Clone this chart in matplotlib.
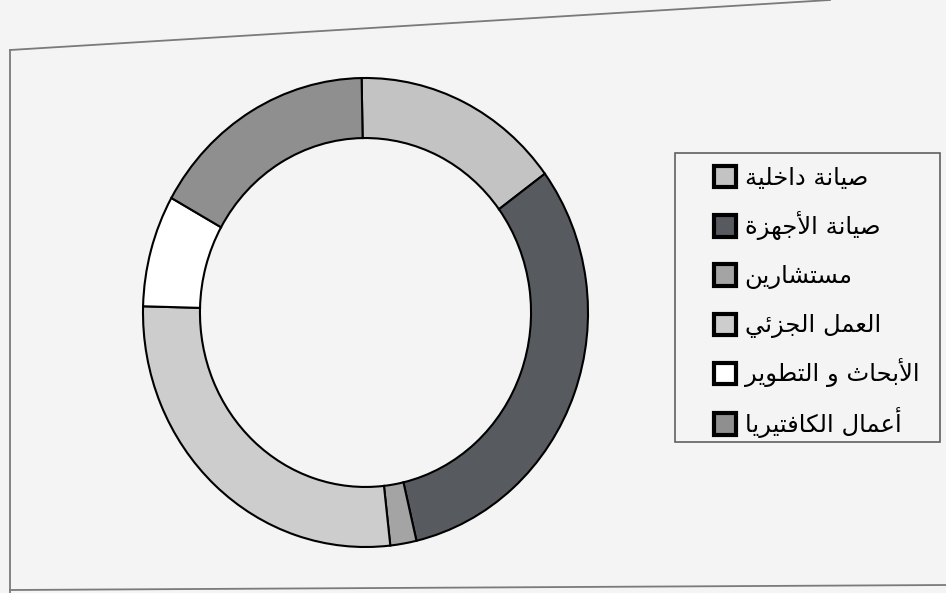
import matplotlib
matplotlib.use('Agg')
import matplotlib.pyplot as plt
from matplotlib.patches import Rectangle
from matplotlib.lines import Line2D
from matplotlib.legend_handler import HandlerPatch

plt.rcParams['font.family'] = ['DejaVu Sans']

labels = ['صيانة داخلية', 'صيانة الأجهزة', 'مستشارين', 'العمل الجزئي',
          'الأبحاث و التطوير', 'أعمال الكافتيريا']
values = [15.2, 31.4, 1.9, 27.2, 7.7, 16.6]   # percent
colors = ['#c3c3c3', '#575b60', '#a4a4a4', '#cdcdcd', '#ffffff', '#8f8f8f']

# matplotlib has no arabic shaping, so pick the presentation forms by hand
# letter -> (first presentation code point, number of forms)
FORMS = {
  'ء': (0xFE80, 1), 'آ': (0xFE81, 2), 'أ': (0xFE83, 2), 'ؤ': (0xFE85, 2),
  'إ': (0xFE87, 2), 'ئ': (0xFE89, 4), 'ا': (0xFE8D, 2), 'ب': (0xFE8F, 4),
  'ة': (0xFE93, 2), 'ت': (0xFE95, 4), 'ث': (0xFE99, 4), 'ج': (0xFE9D, 4),
  'ح': (0xFEA1, 4), 'خ': (0xFEA5, 4), 'د': (0xFEA9, 2), 'ذ': (0xFEAB, 2),
  'ر': (0xFEAD, 2), 'ز': (0xFEAF, 2), 'س': (0xFEB1, 4), 'ش': (0xFEB5, 4),
  'ص': (0xFEB9, 4), 'ض': (0xFEBD, 4), 'ط': (0xFEC1, 4), 'ظ': (0xFEC5, 4),
  'ع': (0xFEC9, 4), 'غ': (0xFECD, 4), 'ف': (0xFED1, 4), 'ق': (0xFED5, 4),
  'ك': (0xFED9, 4), 'ل': (0xFEDD, 4), 'م': (0xFEE1, 4), 'ن': (0xFEE5, 4),
  'ه': (0xFEE9, 4), 'و': (0xFEED, 2), 'ى': (0xFEEF, 2), 'ي': (0xFEF1, 4),
}
LAM_ALEF = {'آ': 0xFEF5, 'أ': 0xFEF7, 'إ': 0xFEF9, 'ا': 0xFEFB}

def info(item):
  if isinstance(item, tuple):
    return LAM_ALEF[item[1]], 2
  return FORMS.get(item, (None, 0))

def shape(text):
  chars = []
  i = 0
  while i < len(text):
    if text[i] == 'ل' and i + 1 < len(text) and text[i+1] in LAM_ALEF:
      chars.append(('ل', text[i+1]))
      i += 2
    else:
      chars.append(text[i])
      i += 1
  out = []
  for k, item in enumerate(chars):
    base, n = info(item)
    if base is None:
      out.append(item)
      continue
    jp = k > 0 and info(chars[k-1])[1] == 4
    jn = n == 4 and k + 1 < len(chars) and info(chars[k+1])[0] is not None
    if n == 1:
      form = 0
    elif jp and jn:
      form = 3
    elif jp:
      form = 1
    elif jn:
      form = 2
    else:
      form = 0
    out.append(chr(base + form))
  return ''.join(reversed(out))

def small_square(legend, orig_handle, xdescent, ydescent, width, height, fontsize):
  s = 0.88 * fontsize
  return Rectangle((-xdescent + (width - s)/2, -ydescent + (height - s)/2), s, s)

W, H = 946, 593
fig = plt.figure(figsize=(W/100, H/100), dpi=100, facecolor='#f4f4f4')

# outer chart frame (photo of a printed page, top edge is skewed)
frame_col = '#7a7a7a'
fig.add_artist(Line2D([10/W, 10/W], [1-593/H, 1-50/H], color=frame_col, lw=1.3))
fig.add_artist(Line2D([10/W, 830/W], [1-50/H, 1-0/H], color=frame_col, lw=1.3))
fig.add_artist(Line2D([10/W, W/W], [1-590/H, 1-585/H], color=frame_col, lw=1.3))

ax = fig.add_axes([143/W, 1-547/H, 445/W, 469/H])
ax.pie(values, colors=colors, startangle=91, counterclock=False, radius=1,
       wedgeprops=dict(width=0.256, edgecolor='black', linewidth=1.5))
ax.set_aspect('auto')
ax.set_xlim(-1, 1)
ax.set_ylim(-1, 1)
ax.axis('off')

handles = [Rectangle((0, 0), 1, 1, facecolor=c, edgecolor='black', linewidth=3)
           for c in colors]
leg = fig.legend(handles, [shape(l) for l in labels], loc='upper left',
                 bbox_to_anchor=(713/W, 1-161/H), frameon=False, borderpad=0,
                 borderaxespad=0, fontsize=17.5, handlelength=1.0, handleheight=1.6,
                 handletextpad=0.3, labelspacing=0.74,
                 handler_map={Rectangle: HandlerPatch(patch_func=small_square)})

fig.add_artist(Rectangle((675/W, 1-442/H), 265/W, 289/H, transform=fig.transFigure,
                         fill=False, edgecolor='#606060', lw=1.2))

fig.savefig('out.png', dpi=100, facecolor=fig.get_facecolor())
